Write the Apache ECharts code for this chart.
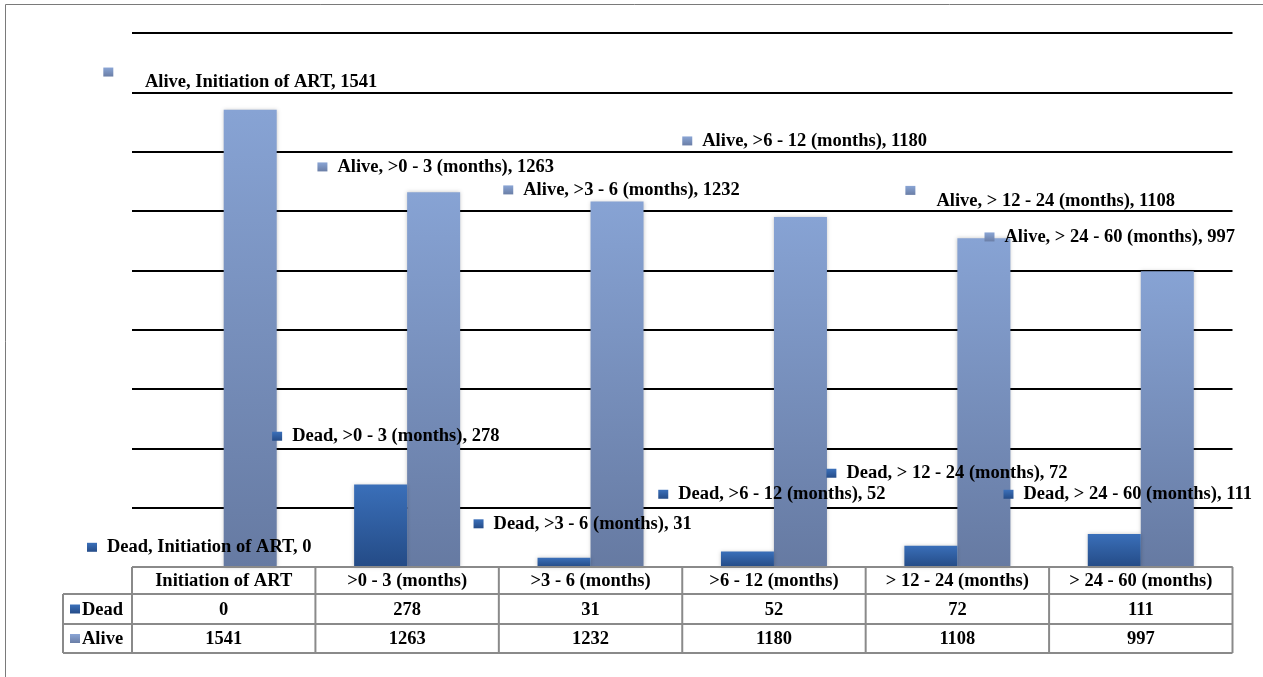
<!DOCTYPE html>
<html>
<head>
<meta charset="utf-8">
<script src="https://cdn.jsdelivr.net/npm/echarts@6/dist/echarts.min.js"></script>
<style>
  html, body { margin: 0; padding: 0; background: #fff; }
  #chart { width: 1263px; height: 677px; }
</style>
</head>
<body>
<div id="chart"></div>
<script>
// ---- data ----
const categories = ['Initiation of ART', '>0 - 3 (months)', '>3 - 6 (months)', '>6 - 12 (months)', '> 12 - 24 (months)', '> 24 - 60 (months)'];
const seriesNames = ['Dead', 'Alive'];
const dead = [0, 278, 31, 52, 72, 111];
const alive = [1541, 1263, 1232, 1180, 1108, 997];
const yMin = 0, yMax = 1800, yStep = 200;

// ---- layout ----
const FONT = "'Liberation Serif', 'Times New Roman', serif";
const FS = 18.5;
const GRID = { left: 132, right: 30.5, top: 33, bottom: 110 };
const W = 1263, H = 677;
const plotRight = W - GRID.right;
const colW = (plotRight - GRID.left) / categories.length;
const rowY = [H - GRID.bottom, 594, 624, 653];   // table row edges
const tableLeft = 63;

// label placement: offset of the label's left/middle point from the bar's top-left corner
const deadLabelAt = [[-83.7, -19.7], [-82, -48.3], [-64, -34], [-62.7, -57.3], [-78, -72.4], [-84.3, -39.8]];
const aliveLabelAt = [[-120.4, -27.5], [-89.7, -25.4], [-87.3, -11.6], [-91.7, -76], [-52, -37.4], [-156.3, -34.3]];
// labels whose key sits apart from the text: [lineHeight, gap]
const aliveDetached = { 0: [29.6, 31.6], 4: [30, 21] };

const grad = (top, bottom) => new echarts.graphic.LinearGradient(0, 0, 0, 1, [
  { offset: 0, color: top }, { offset: 1, color: bottom }
]);
const deadFill = () => grad('#3A6FB9', '#244B86');
const aliveFill = () => grad('#87A3D4', '#667AA2');
const deadKey = () => grad('#3B70BA', '#254C88');
const aliveKey = () => grad('#8AA5D5', '#6A7EA6');

function textStyleT(pad, lh) {
  return { fontFamily: FONT, fontSize: FS, fontWeight: 'bold', color: '#000',
           padding: [0, 0, 0, pad], lineHeight: lh, verticalAlign: 'middle' };
}

function makeItems(values, name, offsets, keyFill, detached) {
  return values.map((v, i) => {
    const txt = name + ', ' + categories[i] + ', ' + v;
    const d = detached && detached[i];
    const rich = d
      ? { m: { width: 10, height: 9, backgroundColor: keyFill(), verticalAlign: 'top' },
          t: textStyleT(d[1], d[0]) }
      : { m: { width: 10, height: 9, backgroundColor: keyFill(), verticalAlign: 'middle' },
          t: textStyleT(10, 20) };
    return {
      value: v,
      label: {
        show: true,
        position: offsets[i],
        align: 'left',
        verticalAlign: 'middle',
        formatter: '{m|}{t|' + txt + '}',
        rich: rich
      }
    };
  });
}

// ---- data table under the plot ----
const table = [];
const lineStyle = { stroke: '#8A8A8A', lineWidth: 2 };
function hLine(x1, x2, y) { table.push({ type: 'line', z: 50, shape: { x1, y1: y, x2, y2: y }, style: lineStyle }); }
function vLine(x, y1, y2) { table.push({ type: 'line', z: 50, shape: { x1: x, y1, x2: x, y2 }, style: lineStyle }); }
function cellText(text, x, y, align) {
  table.push({ type: 'text', z: 51, x, y,
    style: { text, fill: '#000', font: 'bold ' + FS + 'px ' + FONT, align: align || 'center', verticalAlign: 'middle' } });
}
hLine(GRID.left, plotRight, rowY[0]);
hLine(tableLeft, plotRight, rowY[1]);
hLine(tableLeft, plotRight, rowY[2]);
hLine(tableLeft, plotRight, rowY[3]);
vLine(tableLeft, rowY[1], rowY[3]);
for (let k = 0; k <= categories.length; k++) vLine(GRID.left + k * colW, rowY[0], rowY[3]);
const rows = [dead, alive];
categories.forEach((c, i) => {
  const cx = GRID.left + (i + 0.5) * colW;
  cellText(c, cx, (rowY[0] + rowY[1]) / 2 + 1);
  rows.forEach((r, j) => cellText(String(r[i]), cx, (rowY[j + 1] + rowY[j + 2]) / 2 + 1));
});
[deadKey, aliveKey].forEach((kf, j) => {
  const cy = (rowY[j + 1] + rowY[j + 2]) / 2;
  table.push({ type: 'rect', z: 51, shape: { x: 70, y: cy - 4.5, width: 10, height: 9 }, style: { fill: kf() } });
  cellText(seriesNames[j], 82, cy + 1, 'left');
});
// outer frame
table.push({ type: 'rect', z: 0, shape: { x: 5.5, y: 4.5, width: 1300, height: 700 },
  style: { fill: 'none', stroke: '#7A7A7A', lineWidth: 1 } });

const gridLineColors = ['#8A8A8A'];
for (let v = yMin + yStep; v <= yMax; v += yStep) gridLineColors.push('#000');

const chart = echarts.init(document.getElementById('chart'), null, { renderer: 'canvas' });
chart.setOption({
  animation: false,
  backgroundColor: '#fff',
  grid: GRID,
  xAxis: {
    type: 'category',
    data: categories,
    axisLine: { show: false },
    axisTick: { show: false },
    axisLabel: { show: false }
  },
  yAxis: {
    type: 'value',
    min: yMin, max: yMax, interval: yStep,
    axisLabel: { show: false },
    axisLine: { show: false },
    axisTick: { show: false },
    splitLine: { lineStyle: { color: gridLineColors, width: 2 } }
  },
  series: [
    {
      name: seriesNames[0], type: 'bar', z: 4,
      barWidth: 53, barGap: '0%',
      itemStyle: { color: deadFill(), shadowBlur: 4, shadowColor: 'rgba(0,0,0,0.22)' },
      data: makeItems(dead, seriesNames[0], deadLabelAt, deadKey, null)
    },
    {
      name: seriesNames[1], type: 'bar', z: 3,
      barWidth: 53, barGap: '0%',
      itemStyle: { color: aliveFill(), shadowBlur: 4, shadowColor: 'rgba(0,0,0,0.22)' },
      data: makeItems(alive, seriesNames[1], aliveLabelAt, aliveKey, aliveDetached)
    }
  ],
  graphic: { elements: table }
});
</script>
</body>
</html>
